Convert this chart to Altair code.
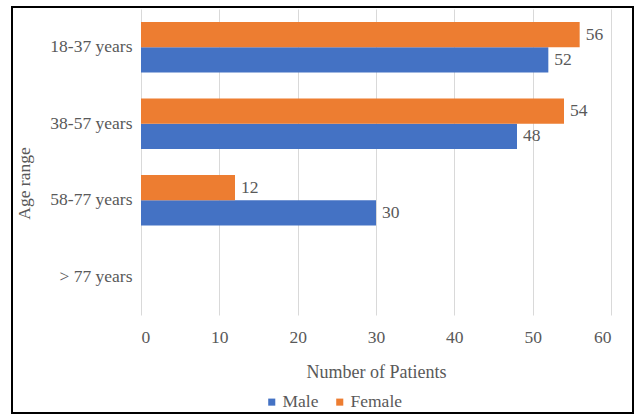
import altair as alt
import pandas as pd

age_ranges = ["18-37 years", "38-57 years", "58-77 years", "> 77 years"]
male = [52, 48, 30, 0]
female = [56, 54, 12, 0]
series = ["Male", "Female"]
x_ticks = [0, 10, 20, 30, 40, 50, 60]

rows = []
for a, m, f in zip(age_ranges, male, female):
    rows.append({"age": a, "sex": "Male", "n": m})
    rows.append({"age": a, "sex": "Female", "n": f})
df = pd.DataFrame(rows)

FONT = "Times New Roman"
GRAY = "#595959"
FS = 17.5

y_enc = alt.Y("age:N", scale=alt.Scale(domain=age_ranges, paddingInner=0.34, paddingOuter=0.17),
              axis=alt.Axis(title="Age range", titleAngle=270, titleBaseline="middle", titleAlign="center",
                            titleX=-117, titleY=174, titleFontWeight="normal", titleFontSize=FS,
                            labelFont=FONT, titleFont=FONT, labelFontWeight="normal",
                            labelFontSize=FS, labelPadding=9, ticks=False, domain=False, grid=False))
yoff = alt.YOffset("sex:N", scale=alt.Scale(domain=["Female", "Male"], paddingInner=0, paddingOuter=0))
x_enc = alt.X("n:Q", scale=alt.Scale(domain=[0, 60], nice=False),
              axis=alt.Axis(values=x_ticks, title="Number of Patients", titleFontWeight="normal",
                            labelFont=FONT, titleFont=FONT, labelFontWeight="normal",
                            titleFontSize=FS + 0.5, titlePadding=18, labelFontSize=FS, labelPadding=13,
                            ticks=False, domain=False, grid=True, gridColor="#d9d9d9", gridWidth=1))

bars = alt.Chart(df).mark_bar().encode(
    x=x_enc, y=y_enc, yOffset=yoff,
    color=alt.Color("sex:N", scale=alt.Scale(domain=series, range=["#4472C4", "#ED7D31"]),
                    legend=alt.Legend(title=None, orient="none", direction="horizontal",
                                      legendX=122, legendY=384, symbolType="square", symbolSize=50,
                                      symbolStrokeWidth=0, labelFontSize=FS, labelOffset=2,
                                      labelFont=FONT, columnPadding=12)),
)

labels = alt.Chart(df).transform_filter("datum.n > 0").mark_text(
    align="left", baseline="middle", dx=6, fontSize=FS, font=FONT, color=GRAY
).encode(x="n:Q", y=alt.Y("age:N", scale=alt.Scale(domain=age_ranges)), yOffset=yoff, text="n:Q")

border = alt.Chart(alt.Data(values=[{"a": 1}])).mark_rect(
    fill="transparent", stroke="black", strokeWidth=2
).encode(x=alt.value(-129), x2=alt.value(492), y=alt.value(-2), y2=alt.value(404))

chart = alt.layer(bars, labels, border).properties(
    width=470, height=306,
    autosize=alt.AutoSizeParams(type="none"),
    padding={"left": 141, "top": 9, "right": 27, "bottom": 99},
    background="white",
).configure(font=FONT).configure_view(stroke=None).configure_axis(
    labelFont=FONT, titleFont=FONT, labelColor=GRAY, titleColor=GRAY
).configure_legend(labelFont=FONT, labelColor=GRAY)

chart.save("out.html", embed_options={"renderer": "svg", "actions": False})
